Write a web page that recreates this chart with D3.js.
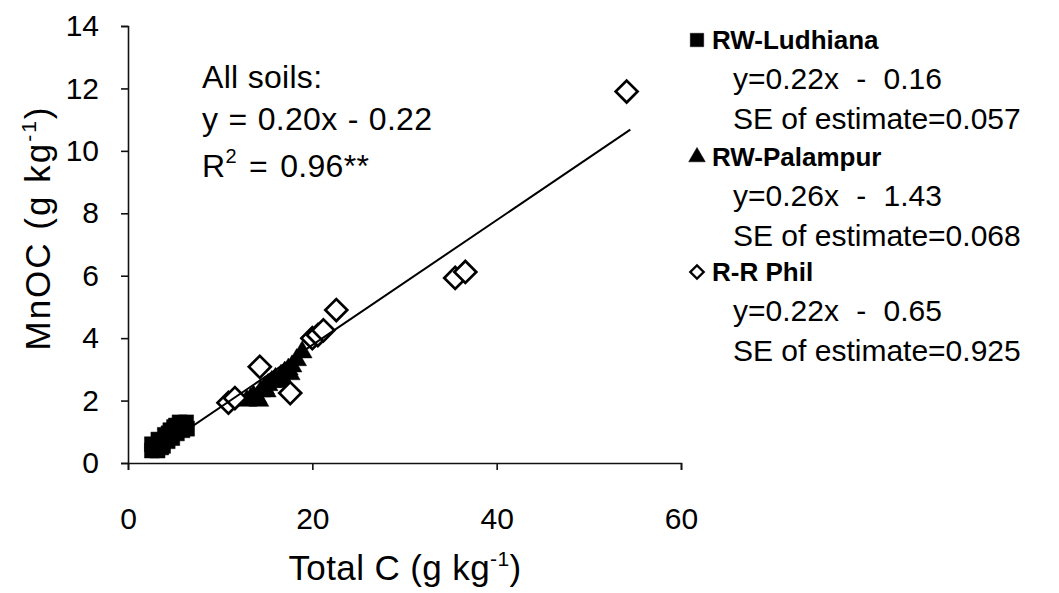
<!DOCTYPE html>
<html>
<head>
<meta charset="utf-8">
<script src="https://cdn.jsdelivr.net/npm/d3@7"></script>
<style>
  body { margin: 0; background: #fff; }
  svg { display: block; }
  text { font-family: "Liberation Sans", Arial, sans-serif; fill: #000; }
</style>
</head>
<body>
<svg id="chart" width="1059" height="593"></svg>
<script>
// Axis ticks
const xTicks = [0, 20, 40, 60];
const yTicks = [0, 2, 4, 6, 8, 10, 12, 14];

// RW-Ludhiana (filled squares): total C vs MnOC, g/kg
const ludhianaC     = [2.6, 2.6, 2.9, 3.2, 3.3, 3.6, 3.8, 4.0, 4.3, 4.4, 4.6, 4.8, 5.0, 5.2, 5.3, 5.6, 5.9, 6.3, 6.4];
const ludhianaMnOC  = [0.4, 0.6, 0.5, 0.4, 0.75, 0.5, 0.55, 0.9, 0.7, 0.95, 1.05, 0.8, 1.15, 1.2, 0.95, 1.3, 1.05, 1.3, 1.1];

// RW-Palampur (filled triangles)
const palampurC     = [12.9, 13.3, 13.6, 14.0, 14.2, 14.4, 14.8, 15.0, 15.2, 15.6, 16.0, 16.3, 16.6, 16.8, 17.0, 17.4, 17.6, 17.8, 18.3, 18.9];
const palampurMnOC  = [2.0, 2.05, 2.15, 2.1, 2.0, 2.3, 2.4, 2.3, 2.5, 2.6, 2.7, 2.6, 2.8, 2.65, 2.9, 3.0, 2.85, 3.1, 3.3, 3.55];

// R-R Phil (open diamonds)
const philC         = [10.9, 11.6, 14.3, 17.6, 20.0, 20.6, 21.2, 22.6, 35.5, 36.6, 54.1];
const philMnOC      = [1.93, 2.08, 3.08, 2.24, 4.0, 4.1, 4.25, 4.9, 5.93, 6.12, 11.9];

// Pooled regression for all soils
const fitSlope = 0.20, fitIntercept = -0.22;
const fitRange = [2.6, 54.5];

// Legend entries
const seriesNames = ["RW-Ludhiana", "RW-Palampur", "R-R Phil"];
const seriesEquations = ["y=0.22x - 0.16", "y=0.26x - 1.43", "y=0.22x - 0.65"];
const seriesSE = ["SE of estimate=0.057", "SE of estimate=0.068", "SE of estimate=0.925"];
const seriesShapes = ["square", "triangle", "diamond"];

const svg = d3.select("#chart");
const x = d3.scaleLinear().domain([0, 60]).range([128, 681]);
const y = d3.scaleLinear().domain([0, 14]).range([463, 26]);

// Axes
const xAxis = svg.append("g")
  .attr("transform", `translate(0,${y(0)})`)
  .call(d3.axisBottom(x).tickValues(xTicks).tickSize(7).tickPadding(38).tickFormat(d3.format("d")));
const yAxis = svg.append("g")
  .attr("transform", `translate(${x(0)},0)`)
  .call(d3.axisLeft(y).tickValues(yTicks).tickSize(7).tickPadding(22).tickFormat(d3.format("d")));
[xAxis, yAxis].forEach(g => {
  g.selectAll("path, line").attr("stroke", "#111").attr("stroke-width", 1.6);
  g.selectAll("text").attr("font-size", 30).attr("font-family", '"Liberation Sans", Arial, sans-serif').attr("fill", "#000");
});

// Axis titles
const xTitle = svg.append("text").attr("x", 405).attr("y", 580).attr("text-anchor", "middle")
  .attr("font-size", 35).attr("letter-spacing", 0.4);
xTitle.append("tspan").text("Total C (g kg");
xTitle.append("tspan").attr("font-size", 21).attr("dy", -14).text("-1");
xTitle.append("tspan").attr("dy", 14).text(")");

const yTitle = svg.append("text").attr("transform", "translate(50,228) rotate(-90)").attr("text-anchor", "middle")
  .attr("font-size", 35).attr("letter-spacing", 2);
yTitle.append("tspan").text("MnOC (g kg");
yTitle.append("tspan").attr("font-size", 21).attr("dy", -14).text("-1");
yTitle.append("tspan").attr("dy", 14).text(")");

// Marker shapes
const shapePath = {
  square:   d3.symbol(d3.symbolSquare, 225)(),
  triangle: d3.symbol(d3.symbolTriangle, 170)(),
  diamond:  d3.symbol(d3.symbolSquare, 240)()
};

function drawSeries(xs, ys, shape) {
  const pts = xs.map((v, i) => [v, ys[i]]);
  svg.append("g").selectAll("path").data(pts).join("path")
    .attr("d", shapePath[shape])
    .attr("transform", d => `translate(${x(d[0])},${y(d[1])})` + (shape === "diamond" ? " rotate(45)" : ""))
    .attr("fill", shape === "diamond" ? "#fff" : "#000")
    .attr("stroke", "#000")
    .attr("stroke-width", shape === "diamond" ? 2.7 : 0.5);
}
drawSeries(ludhianaC, ludhianaMnOC, "square");
drawSeries(palampurC, palampurMnOC, "triangle");
drawSeries(philC, philMnOC, "diamond");

// Regression line
svg.append("path")
  .datum(fitRange.map(c => [c, fitSlope * c + fitIntercept]))
  .attr("d", d3.line().x(d => x(d[0])).y(d => y(d[1])))
  .attr("stroke", "#000").attr("stroke-width", 2).attr("fill", "none");

// Annotation for pooled fit
const note = svg.append("g").attr("font-size", 32);
note.append("text").attr("x", 202).attr("y", 88).attr("letter-spacing", 0.3).text("All soils:");
note.append("text").attr("x", 202).attr("y", 130).attr("word-spacing", 1).attr("letter-spacing", 0.3).text("y = 0.20x - 0.22");
const r2 = note.append("text").attr("x", 202).attr("y", 177).attr("letter-spacing", 0.3);
r2.append("tspan").text("R");
r2.append("tspan").attr("font-size", 20).attr("dy", -14).text("2");
r2.append("tspan").attr("dy", 14).attr("word-spacing", 3).text(" = 0.96**");

// Legend
const legendTop = [49, 166, 281];
const legend = svg.append("g");
seriesNames.forEach((name, i) => {
  const ty = legendTop[i];
  const g = legend.append("g");
  const mk = { square: d3.symbol(d3.symbolSquare, 180)(), triangle: d3.symbol(d3.symbolTriangle, 120)(), diamond: d3.symbol(d3.symbolSquare, 90)() }[seriesShapes[i]];
  g.append("path").attr("d", mk)
    .attr("transform", `translate(697,${ty - 9})` + (seriesShapes[i] === "diamond" ? " rotate(45)" : ""))
    .attr("fill", seriesShapes[i] === "diamond" ? "#fff" : "#000")
    .attr("stroke", "#000").attr("stroke-width", seriesShapes[i] === "diamond" ? 2.3 : 0.5);
  g.append("text").attr("x", 712).attr("y", ty).attr("font-size", 26).attr("font-weight", "bold").text(name);
  g.append("text").attr("x", 733).attr("y", ty + 40).attr("font-size", 30).attr("word-spacing", 9).text(seriesEquations[i]);
  g.append("text").attr("x", 733).attr("y", ty + 80).attr("font-size", 30).text(seriesSE[i]);
});
</script>
</body>
</html>
